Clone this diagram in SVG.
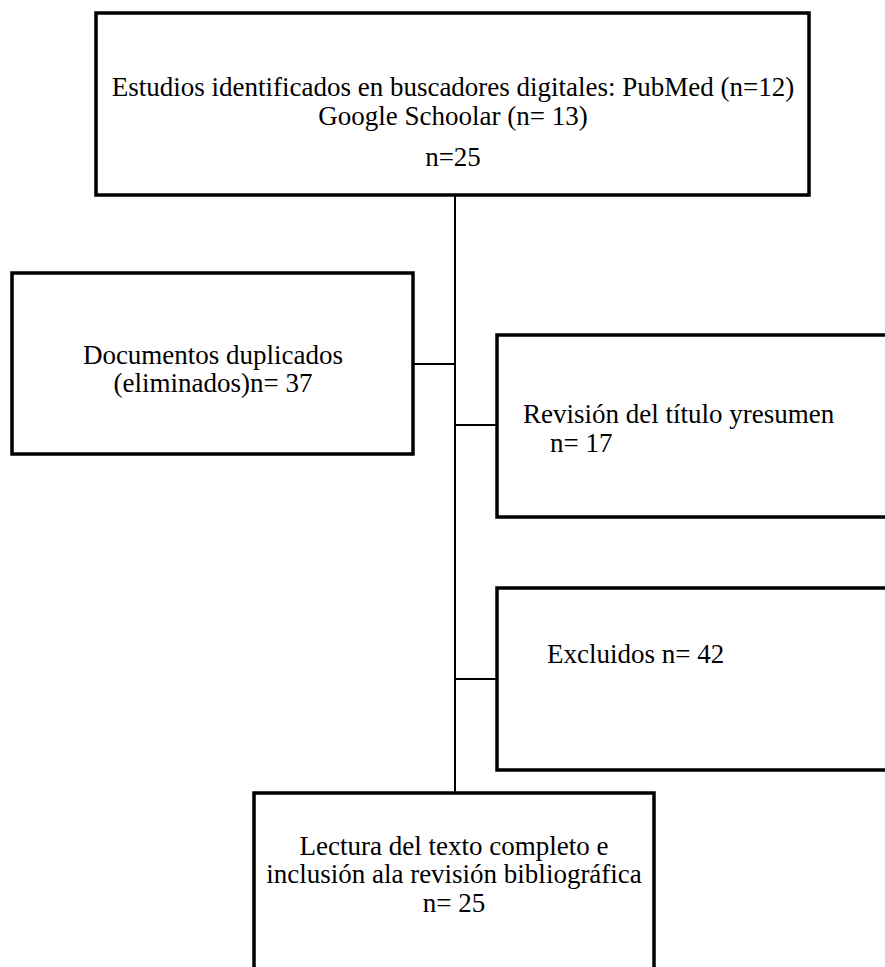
<svg xmlns="http://www.w3.org/2000/svg" width="885" height="967" viewBox="0 0 885 967">
<style>
.box{fill:#fff;stroke:#000;stroke-width:3.5}
.conn{fill:none;stroke:#000;stroke-width:2}
text{font-family:"Liberation Serif","Times New Roman",serif;font-size:27px;fill:#000}
.c{text-anchor:middle}
</style>
<rect width="885" height="967" fill="#fff"/>
<g id="connectors">
<line class="conn" x1="455" y1="195" x2="455" y2="793"/>
<line class="conn" x1="413" y1="364" x2="455" y2="364"/>
<line class="conn" x1="455" y1="425" x2="497" y2="425"/>
<line class="conn" x1="455" y1="679" x2="497" y2="679"/>
</g>
<g id="n1">
<rect class="box" x="96" y="13" width="713" height="182"/>
<text class="c" x="453" y="96">Estudios identificados en buscadores digitales: PubMed (n=12)</text>
<text class="c" x="453" y="125">Google Schoolar (n= 13)</text>
<text class="c" x="453" y="166">n=25</text>
</g>
<g id="n2">
<rect class="box" x="12" y="273" width="401" height="181"/>
<text class="c" x="213" y="364">Documentos duplicados</text>
<text class="c" x="213" y="392">(eliminados)n= 37</text>
</g>
<g id="n3">
<rect class="box" x="497" y="335" width="400" height="182"/>
<text x="523" y="423">Revisión del título yresumen</text>
<text x="550" y="452">n= 17</text>
</g>
<g id="n4">
<rect class="box" x="497" y="588" width="400" height="182"/>
<text x="547" y="663">Excluidos n= 42</text>
</g>
<g id="n5">
<rect class="box" x="254" y="793" width="400" height="190"/>
<text class="c" x="454" y="855">Lectura del texto completo e</text>
<text class="c" x="454" y="883">inclusión ala revisión bibliográfica</text>
<text class="c" x="454" y="912">n= 25</text>
</g>
</svg>
